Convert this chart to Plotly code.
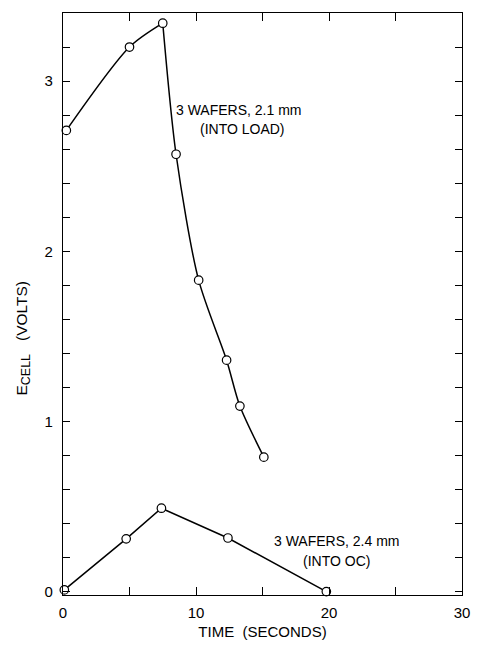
import plotly.graph_objects as go

# Data
load_time = [0.25, 5.0, 7.5, 8.5, 10.2, 12.3, 13.3, 15.1]
load_volts = [2.71, 3.20, 3.34, 2.57, 1.83, 1.36, 1.09, 0.79]
oc_time = [0.1, 4.75, 7.4, 12.4, 19.8]
oc_volts = [0.01, 0.31, 0.49, 0.315, 0.0]
x_tickvals = [0, 10, 20, 30]
x_ticktext = ["0", "10", "20", "30"]
y_tickvals = [0, 1, 2, 3]
y_ticktext = ["0", "1", "2", "3"]

FONT = "Liberation Sans, Arial, sans-serif"
peak = load_volts.index(max(load_volts))

fig = go.Figure()
marker_fill = dict(symbol="circle", size=8.5, color="white", line=dict(width=1.2, color="black"))

fig.add_trace(go.Scatter(x=load_time[:peak + 1], y=load_volts[:peak + 1], mode="lines",
                         line=dict(color="black", width=1.5, shape="spline", smoothing=0.8),
                         showlegend=False, hoverinfo="skip"))
fig.add_trace(go.Scatter(x=load_time[peak:], y=load_volts[peak:], mode="lines",
                         line=dict(color="black", width=1.5, shape="spline", smoothing=0.8),
                         showlegend=False, hoverinfo="skip"))
fig.add_trace(go.Scatter(x=load_time, y=load_volts, mode="markers", marker=marker_fill,
                         showlegend=False, cliponaxis=False))
fig.add_trace(go.Scatter(x=oc_time, y=oc_volts, mode="lines+markers",
                         line=dict(color="black", width=1.5), marker=marker_fill,
                         showlegend=False, cliponaxis=False))

ann_font = dict(family=FONT, size=14, color="black")
fig.add_annotation(x=13.25, y=2.83, text="3 WAFERS, 2.1 mm", showarrow=False, font=ann_font)
fig.add_annotation(x=13.5, y=2.72, text="(INTO LOAD)", showarrow=False, font=ann_font)
fig.add_annotation(x=20.6, y=0.30, text="3 WAFERS, 2.4 mm", showarrow=False, font=ann_font)
fig.add_annotation(x=20.6, y=0.18, text="(INTO OC)", showarrow=False, font=ann_font)
fig.add_annotation(x=-0.1007, y=0.442, xref="paper", yref="paper",
                   xanchor="center", yanchor="middle",
                   text="E<sub><span style='font-size:12.5px'>CELL</span></sub>   (VOLTS)",
                   textangle=-90, showarrow=False,
                   font=dict(family=FONT, size=15.5, color="black"))

fig.update_xaxes(range=[0, 30], tickvals=x_tickvals, ticktext=x_ticktext,
                 ticks="inside", ticklen=8, tickcolor="black", tickwidth=1.2,
                 minor=dict(tickvals=[5, 15, 25], ticks="inside", ticklen=8, tickcolor="black", tickwidth=1.2),
                 showline=True, linecolor="black", linewidth=1.3, mirror="ticks", showgrid=False,
                 zeroline=False, tickfont=dict(family=FONT, size=15, color="black"),
                 ticklabelstandoff=4,
                 title=dict(text="TIME  (SECONDS)", font=dict(family=FONT, size=15, color="black"),
                            standoff=6))
fig.update_yaxes(range=[-0.02, 3.4], tickvals=y_tickvals, ticktext=y_ticktext,
                 ticks="inside", ticklen=7, tickcolor="black", tickwidth=1.2,
                 minor=dict(tickvals=[0.2, 0.4, 0.6, 0.8, 1.2, 1.4, 1.6, 1.8, 2.2, 2.4, 2.6, 2.8, 3.2],
                            ticks="inside", ticklen=7, tickcolor="black", tickwidth=1.2),
                 showline=True, linecolor="black", linewidth=1.3, mirror="ticks", showgrid=False,
                 zeroline=False, tickfont=dict(family=FONT, size=15, color="black"),
                 ticklabelstandoff=6)

fig.update_layout(width=479, height=652, margin=dict(l=63, r=9, t=13, b=57),
                  plot_bgcolor="white", paper_bgcolor="white")

fig.write_html("out.html")
